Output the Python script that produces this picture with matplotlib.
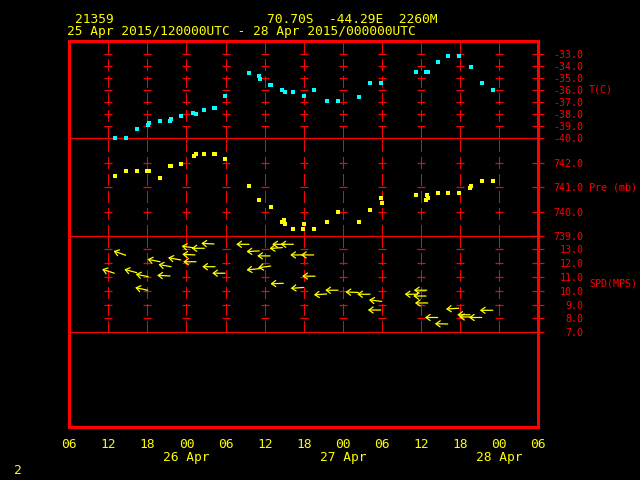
import numpy as np
import matplotlib
matplotlib.use("Agg")
import matplotlib.pyplot as plt
from matplotlib.transforms import ScaledTranslation, blended_transform_factory

## ===== data (hours after 25 Apr 2015 06UTC) ===== ##

t_hours = [7.0, 8.7, 10.4, 12.1, 12.2, 13.9, 15.5, 15.6, 17.2, 19.0, 19.4, 20.7,
           22.2, 22.4, 23.9, 27.6, 29.1, 29.3, 30.8, 30.9, 32.7, 33.1, 34.4, 36.0,
           37.6, 39.6, 41.3, 44.5, 46.2, 47.9, 53.2, 54.8, 55.0, 56.6, 58.1, 59.8,
           61.6, 63.4, 65.1]
temp_c = [-39.95, -39.95, -39.23, -38.87, -38.73, -38.56, -38.53, -38.39, -38.14,
          -37.89, -37.98, -37.64, -37.48, -37.48, -36.48, -34.56, -34.78, -35.06,
          -35.56, -35.56, -35.98, -36.14, -36.14, -36.48, -35.98, -36.89, -36.89,
          -36.56, -35.39, -35.39, -34.48, -34.48, -34.48, -33.64, -33.14, -33.14,
          -34.06, -35.39, -35.98]

p_hours = [7.0, 8.7, 10.4, 12.0, 12.2, 13.9, 15.4, 15.6, 17.2, 19.1, 19.5, 20.7,
           22.2, 22.4, 23.9, 27.6, 29.2, 30.9, 32.7, 32.9, 33.1, 34.4, 35.9, 36.0,
           37.6, 39.6, 41.3, 44.5, 46.2, 47.9, 48.0, 53.2, 54.8, 54.9, 55.1, 56.6,
           58.1, 59.8, 61.5, 61.7, 63.4, 65.0]
pres_mb = [741.49, 741.69, 741.69, 741.69, 741.69, 741.40, 741.90, 741.90, 741.98,
           742.32, 742.40, 742.40, 742.40, 742.40, 742.19, 741.07, 740.49, 740.21,
           739.58, 739.65, 739.50, 739.29, 739.29, 739.50, 739.29, 739.58, 739.99,
           739.58, 740.08, 740.57, 740.37, 740.70, 740.49, 740.70, 740.57, 740.78,
           740.78, 740.78, 740.99, 741.07, 741.28, 741.28]

w_hours = [6.92, 8.67, 10.36, 12.05, 12.14, 13.94, 15.47, 15.63, 17.11, 19.20, 19.31,
           19.46, 20.74, 22.23, 22.38, 23.91, 27.60, 29.18, 29.18, 30.82, 30.93, 32.71,
           32.86, 33.12, 34.40, 35.89, 35.96, 37.53, 37.73, 39.52, 41.26, 44.37, 46.17,
           47.81, 47.97, 53.46, 54.77, 54.87, 55.03, 56.56, 58.10, 59.79, 61.52, 61.80,
           63.32, 65.00]
w_speed = [11.27, 12.57, 11.31, 10.04, 11.02, 12.10, 11.07, 11.74, 12.23, 13.10, 12.59,
           12.10, 13.07, 13.38, 11.74, 11.27, 13.36, 12.88, 11.60, 12.52, 11.79, 13.12,
           10.54, 13.36, 13.36, 12.59, 10.24, 12.59, 11.05, 9.77, 10.04, 9.88, 9.75,
           8.61, 9.23, 9.75, 9.62, 10.04, 9.12, 8.07, 7.60, 8.74, 8.27, 8.11,
           8.07, 8.59]
w_dir = [108, 109, 105, 102, 101, 101, 93, 100, 100, 98, 93,
         90, 90, 93, 90, 90, 90, 87, 84, 90, 82, 86,
         88, 90, 90, 90, 86, 90, 91, 86, 90, 92, 90,
         90, 97, 90, 90, 90, 90, 90, 91, 86, 90, 90,
         90, 90]

hour_labels = ["06", "12", "18", "00", "06", "12", "18", "00", "06", "12", "18", "00", "06"]
date_labels = ["26 Apr", "27 Apr", "28 Apr"]
date_hours = [18, 42, 66]

## ===== style ===== ##

RED = "#ff0000"
YEL = "#ffff00"
CYAN = "#00ffff"
MONO = "DejaVu Sans Mono"
W, H = 640, 480
X0, X1 = 69.2, 538.3


def px_axes(top, bottom):
    return [X0 / W, 1 - bottom / H, (X1 - X0) / W, (bottom - top) / H]


fig = plt.figure(figsize=(6.4, 4.8), dpi=100, facecolor="black")

ax_t = fig.add_axes(px_axes(41, 138.3))
ax_p = fig.add_axes(px_axes(138.3, 235.7))
ax_w = fig.add_axes(px_axes(235.7, 332.3))
ax_e = fig.add_axes(px_axes(332.3, 427))
axes = [ax_t, ax_p, ax_w, ax_e]

ax_t.set_ylim(-40, -31.89)
ax_p.set_ylim(739, 743.04)
ax_w.set_ylim(7, 13.98)

grid_hours = np.arange(6, 72, 6)
panel_ticks = [np.arange(-40, -32.5, 1.0), np.arange(739, 742.5, 1.0), np.arange(7, 13.5, 1.0)]

for ax in axes:
    ax.patch.set_visible(False)
    ax.set_xlim(0, 72)
    ax.set_xticks([])
    for s in ax.spines.values():
        s.set_color(RED)
        s.set_linewidth(0.9)
        s.set_zorder(4)
    ax.spines["left"].set_linewidth(2.2)
    ax.spines["right"].set_linewidth(2.2)
    if ax is not ax_t:
        ax.spines["top"].set_visible(False)
ax_t.spines["top"].set_linewidth(2.2)
ax_e.spines["bottom"].set_linewidth(2.2)
ax_e.set_yticks([])

for ax, ticks in zip([ax_t, ax_p, ax_w], panel_ticks):
    ax.yaxis.tick_right()
    ax.set_yticks(ticks)
    ax.set_yticklabels(["%.1f" % v for v in ticks])
    ax.tick_params(axis="y", direction="inout", length=8, width=0.9, colors=RED,
                   pad=28.4, labelsize=7.2)
    for lab in ax.get_yticklabels():
        lab.set_horizontalalignment("right")
        lab.set_family(MONO)
    for h in grid_hours:
        ax.axvline(h, color=RED, lw=0.9, ls=(0, (9, 4)), zorder=1, antialiased=False)
    inner = ticks[1:]
    hh, yy = np.meshgrid(grid_hours, inner)
    ax.plot(hh.ravel(), yy.ravel(), ls="none", marker="_", ms=5.3, mew=0.9,
            color=RED, zorder=1, antialiased=False)

# temperature and pressure
ax_t.plot(t_hours, temp_c, ls="none", marker="s", ms=3.1, mew=0, color=CYAN,
          clip_on=False, zorder=5)
ax_p.plot(p_hours, pres_mb, ls="none", marker="s", ms=3.1, mew=0, color=YEL,
          clip_on=False, zorder=5)

# wind arrows: tail at (time, speed), pointing where the wind blows
L = 12.8  # pixels
for h, s, d in zip(w_hours, w_speed, w_dir):
    r = np.deg2rad(d)
    dx = -L * np.sin(r) / 100.0
    dy = -L * np.cos(r) / 100.0
    tr = ax_w.transData + ScaledTranslation(dx, dy, fig.dpi_scale_trans)
    ax_w.annotate("", xy=(h, s), xycoords=tr, xytext=(h, s), textcoords="data",
                  arrowprops=dict(arrowstyle="->,head_length=0.3,head_width=0.22",
                                  color=YEL, lw=0.9, shrinkA=0, shrinkB=0,
                                  mutation_scale=10),
                  zorder=5)

# panel names
for name, ymid in [("T(C)", 89.7), ("Pre (mb)", 187.0), ("SPD(MPS)", 284.0)]:
    fig.text(589 / W, 1 - ymid / H, name, color=RED, fontsize=7.2, family=MONO,
             va="center", ha="left")

# time axis labels
tb = blended_transform_factory(ax_e.transData, fig.transFigure)
for h, lab in zip(np.arange(0, 73, 6), hour_labels):
    ax_e.text(h, 1 - 447.7 / H, lab, transform=tb, color=YEL, fontsize=9.3,
              family=MONO, ha="center", va="baseline", clip_on=False)
for h, lab in zip(date_hours, date_labels):
    ax_e.text(h, 1 - 460.5 / H, lab, transform=tb, color=YEL, fontsize=9.3,
              family=MONO, ha="center", va="baseline", clip_on=False)

# titles
fig.text(75.5 / W, 1 - 23.3 / H, "21359", color=YEL, fontsize=9.3, family=MONO, va="baseline")
fig.text(267 / W, 1 - 23.3 / H, "70.70S  -44.29E  2260M", color=YEL, fontsize=9.3,
         family=MONO, va="baseline")
fig.text(67 / W, 1 - 35.3 / H, "25 Apr 2015/120000UTC - 28 Apr 2015/000000UTC",
         color=YEL, fontsize=9.3, family=MONO, va="baseline")
fig.text(14 / W, 1 - 474 / H, "2", color=YEL, fontsize=9.3, family=MONO, va="baseline")

fig.savefig("out.png", dpi=100, facecolor="black")
